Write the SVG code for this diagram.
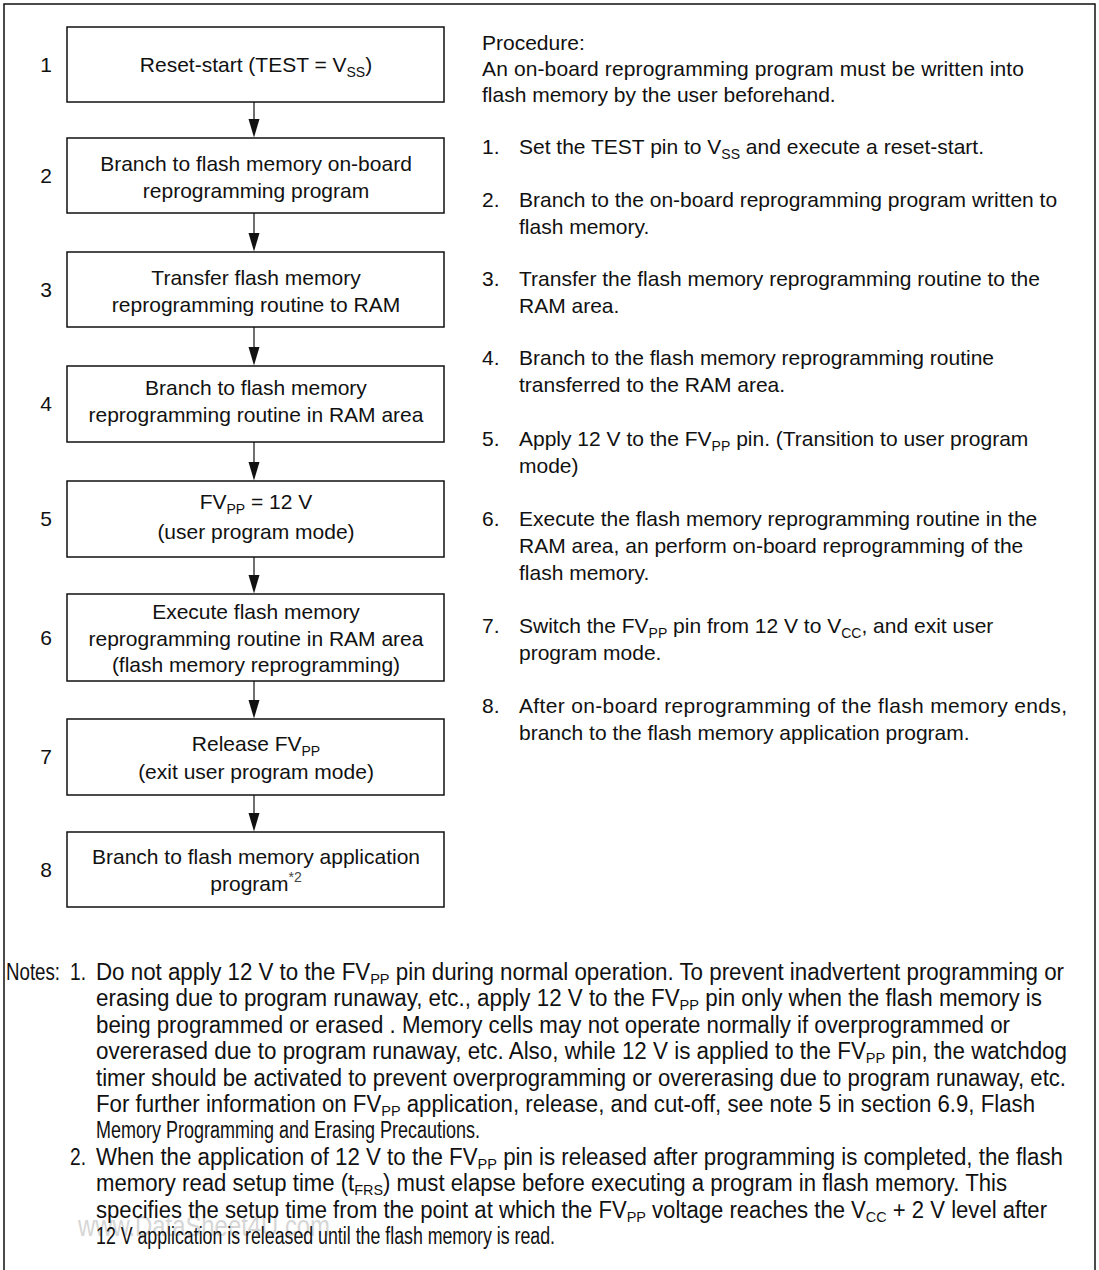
<svg xmlns="http://www.w3.org/2000/svg" width="1099" height="1270" viewBox="0 0 1099 1270">
<style>
text{font-family:"Liberation Sans",Arial,sans-serif;font-size:21px;fill:#111}
.c{text-anchor:middle}
.box{fill:#fff;stroke:#111;stroke-width:1.5}
.sub{font-size:14px}
.n{font-size:23px}
.n .sub{font-size:15px}
.wm{font-size:29px;fill:#d6d6d6}
.arr{stroke:#222;stroke-width:1.3;fill:none}
</style>
<rect width="1099" height="1270" fill="#fff"/>
<path d="M4,1270 V4 H1095 V1270" fill="none" stroke="#111" stroke-width="1.5"/>

<g id="connectors">
<line class="arr" x1="254" y1="102" x2="254" y2="121"/>
<path d="M248.5,119 L259.5,119 L254,137.5 Z" fill="#111"/>
<line class="arr" x1="254" y1="213" x2="254" y2="235"/>
<path d="M248.5,233 L259.5,233 L254,251.5 Z" fill="#111"/>
<line class="arr" x1="254" y1="327" x2="254" y2="349"/>
<path d="M248.5,347 L259.5,347 L254,365.5 Z" fill="#111"/>
<line class="arr" x1="254" y1="442" x2="254" y2="464"/>
<path d="M248.5,462 L259.5,462 L254,480.5 Z" fill="#111"/>
<line class="arr" x1="254" y1="557" x2="254" y2="577"/>
<path d="M248.5,575 L259.5,575 L254,593.5 Z" fill="#111"/>
<line class="arr" x1="254" y1="681" x2="254" y2="702"/>
<path d="M248.5,700 L259.5,700 L254,718.5 Z" fill="#111"/>
<line class="arr" x1="254" y1="795" x2="254" y2="815"/>
<path d="M248.5,813 L259.5,813 L254,831.5 Z" fill="#111"/>
</g>

<g id="node1">
<rect class="box" x="67" y="27" width="377" height="75"/>
<text x="46" y="72" class="c">1</text>
<text x="256" y="72" class="c">Reset-start (TEST = V<tspan class="sub" dy="5">SS</tspan><tspan dy="-5">)</tspan></text>
</g>
<g id="node2">
<rect class="box" x="67" y="138" width="377" height="75"/>
<text x="46" y="183" class="c">2</text>
<text x="256" y="171" class="c">Branch to flash memory on-board</text>
<text x="256" y="198" class="c">reprogramming program</text>
</g>
<g id="node3">
<rect class="box" x="67" y="252" width="377" height="75"/>
<text x="46" y="297" class="c">3</text>
<text x="256" y="285" class="c">Transfer flash memory</text>
<text x="256" y="312" class="c">reprogramming routine to RAM</text>
</g>
<g id="node4">
<rect class="box" x="67" y="366" width="377" height="76"/>
<text x="46" y="411" class="c">4</text>
<text x="256" y="395" class="c">Branch to flash memory</text>
<text x="256" y="422" class="c">reprogramming routine in RAM area</text>
</g>
<g id="node5">
<rect class="box" x="67" y="481" width="377" height="76"/>
<text x="46" y="526" class="c">5</text>
<text x="256" y="509" class="c">FV<tspan class="sub" dy="5">PP</tspan><tspan dy="-5"> = 12 V</tspan></text>
<text x="256" y="539" class="c">(user program mode)</text>
</g>
<g id="node6">
<rect class="box" x="67" y="594" width="377" height="87"/>
<text x="46" y="645" class="c">6</text>
<text x="256" y="619" class="c">Execute flash memory</text>
<text x="256" y="646" class="c">reprogramming routine in RAM area</text>
<text x="256" y="672" class="c">(flash memory reprogramming)</text>
</g>
<g id="node7">
<rect class="box" x="67" y="719" width="377" height="76"/>
<text x="46" y="764" class="c">7</text>
<text x="256" y="751" class="c">Release FV<tspan class="sub" dy="5">PP</tspan></text>
<text x="256" y="779" class="c">(exit user program mode)</text>
</g>
<g id="node8">
<rect class="box" x="67" y="832" width="377" height="75"/>
<text x="46" y="877" class="c">8</text>
<text x="256" y="864" class="c">Branch to flash memory application</text>
<text x="256" y="891" class="c">program<tspan class="sub" dy="-9" fill="#444">*2</tspan></text>
</g>

<g id="procedure">
<text x="482" y="50">Procedure:</text>
<text x="482" y="76" textLength="542">An on-board reprogramming program must be written into</text>
<text x="482" y="102">flash memory by the user beforehand.</text>
<text x="482" y="154">1.</text>
<text x="519" y="154">Set the TEST pin to V<tspan class="sub" dy="5">SS</tspan><tspan dy="-5"> and execute a reset-start.</tspan></text>
<text x="482" y="207">2.</text>
<text x="519" y="207">Branch to the on-board reprogramming program written to</text>
<text x="519" y="234">flash memory.</text>
<text x="482" y="286">3.</text>
<text x="519" y="286">Transfer the flash memory reprogramming routine to the</text>
<text x="519" y="313">RAM area.</text>
<text x="482" y="365">4.</text>
<text x="519" y="365">Branch to the flash memory reprogramming routine</text>
<text x="519" y="392">transferred to the RAM area.</text>
<text x="482" y="446">5.</text>
<text x="519" y="446">Apply 12 V to the FV<tspan class="sub" dy="5">PP</tspan><tspan dy="-5"> pin. (Transition to user program</tspan></text>
<text x="519" y="473">mode)</text>
<text x="482" y="526">6.</text>
<text x="519" y="526">Execute the flash memory reprogramming routine in the</text>
<text x="519" y="553">RAM area, an perform on-board reprogramming of the</text>
<text x="519" y="580">flash memory.</text>
<text x="482" y="633">7.</text>
<text x="519" y="633">Switch the FV<tspan class="sub" dy="5">PP</tspan><tspan dy="-5"> pin from 12 V to V</tspan><tspan class="sub" dy="5">CC</tspan><tspan dy="-5">, and exit user</tspan></text>
<text x="519" y="660">program mode.</text>
<text x="482" y="713">8.</text>
<text x="519" y="713" textLength="548" lengthAdjust="spacing">After on-board reprogramming of the flash memory ends,</text>
<text x="519" y="740">branch to the flash memory application program.</text>
</g>

<g id="notes" class="n">
<text class="wm" x="78" y="1236" textLength="252" lengthAdjust="spacingAndGlyphs">www.DataSheet4U.com</text>
<text class="n" x="6" y="980" textLength="54" lengthAdjust="spacingAndGlyphs">Notes:</text>
<text class="n" x="70" y="980" textLength="16" lengthAdjust="spacingAndGlyphs">1.</text>
<text class="n" x="96" y="980" textLength="968" lengthAdjust="spacingAndGlyphs">Do not apply 12 V to the FV<tspan class="sub" dy="4">PP</tspan><tspan dy="-4"> pin during normal operation. To prevent inadvertent programming or</tspan></text>
<text class="n" x="96" y="1006" textLength="946" lengthAdjust="spacingAndGlyphs">erasing due to program runaway, etc., apply 12 V to the FV<tspan class="sub" dy="4">PP</tspan><tspan dy="-4"> pin only when the flash memory is</tspan></text>
<text class="n" x="96" y="1033" textLength="914" lengthAdjust="spacingAndGlyphs">being programmed or erased . Memory cells may not operate normally if overprogrammed or</text>
<text class="n" x="96" y="1059" textLength="971" lengthAdjust="spacingAndGlyphs">overerased due to program runaway, etc. Also, while 12 V is applied to the FV<tspan class="sub" dy="4">PP</tspan><tspan dy="-4"> pin, the watchdog</tspan></text>
<text class="n" x="96" y="1086" textLength="970" lengthAdjust="spacingAndGlyphs">timer should be activated to prevent overprogramming or overerasing due to program runaway, etc.</text>
<text class="n" x="96" y="1112" textLength="939" lengthAdjust="spacingAndGlyphs">For further information on FV<tspan class="sub" dy="4">PP</tspan><tspan dy="-4"> application, release, and cut-off, see note 5 in section 6.9, Flash</tspan></text>
<text class="n" x="96" y="1138" textLength="384" lengthAdjust="spacingAndGlyphs">Memory Programming and Erasing Precautions.</text>
<text class="n" x="70" y="1165" textLength="16" lengthAdjust="spacingAndGlyphs">2.</text>
<text class="n" x="96" y="1165" textLength="967" lengthAdjust="spacingAndGlyphs">When the application of 12 V to the FV<tspan class="sub" dy="4">PP</tspan><tspan dy="-4"> pin is released after programming is completed, the flash</tspan></text>
<text class="n" x="96" y="1191" textLength="911" lengthAdjust="spacingAndGlyphs">memory read setup time (t<tspan class="sub" dy="4">FRS</tspan><tspan dy="-4">) must elapse before executing a program in flash memory. This</tspan></text>
<text class="n" x="96" y="1218" textLength="951" lengthAdjust="spacingAndGlyphs">specifies the setup time from the point at which the FV<tspan class="sub" dy="4">PP</tspan><tspan dy="-4"> voltage reaches the V</tspan><tspan class="sub" dy="4">CC</tspan><tspan dy="-4"> + 2 V level after</tspan></text>
<text class="n" x="96" y="1244" textLength="459" lengthAdjust="spacingAndGlyphs">12 V application is released until the flash memory is read.</text>
</g>
</svg>
